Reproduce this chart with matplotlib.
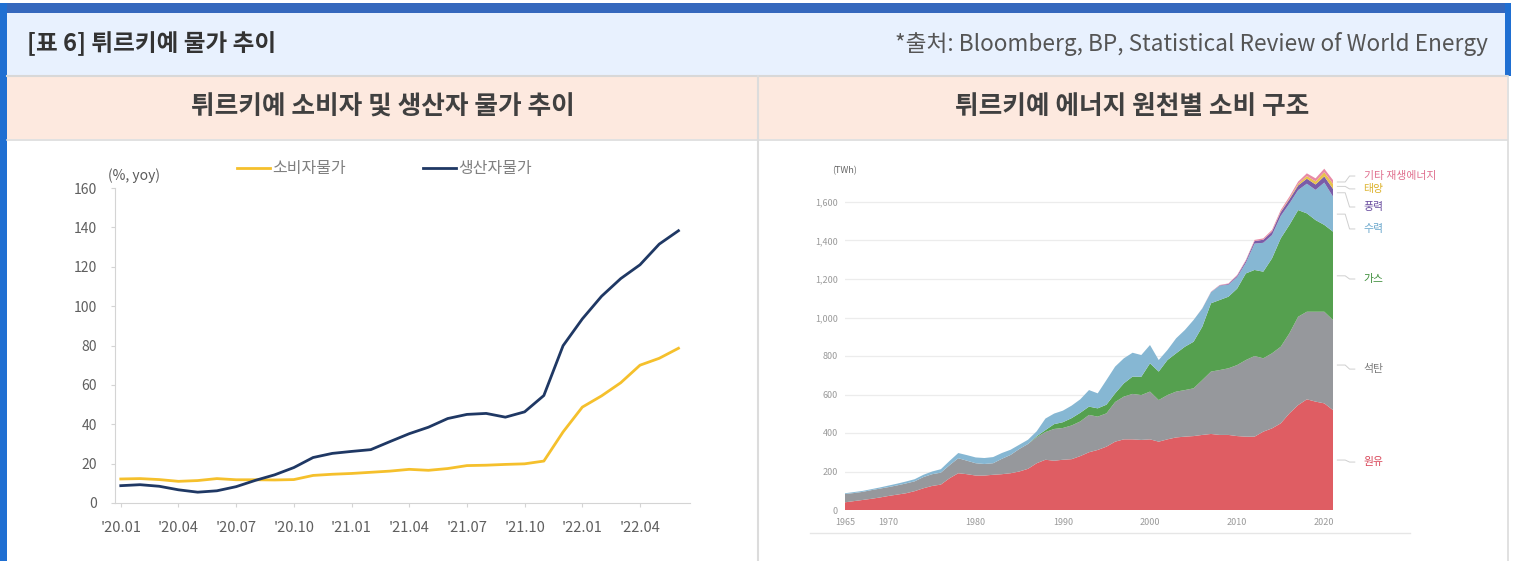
"""
Turkey price trend + energy consumption by source, two-panel report card.
"""
import numpy as np
import matplotlib
matplotlib.use("Agg")
import matplotlib.pyplot as plt
import matplotlib.ticker as mticker
from matplotlib.patches import Rectangle
from matplotlib.lines import Line2D

plt.rcParams["font.family"] = ["Noto Sans CJK KR", "DejaVu Sans"]

# --- Left panel: CPI / PPI (% yoy), monthly 2020.01 - 2022.06 ---
CPI = [12.2, 12.4, 11.9, 11.0, 11.4, 12.4, 11.8, 11.8, 11.7, 11.9, 14.0, 14.6,
       15.0, 15.6, 16.2, 17.1, 16.6, 17.5, 19.0, 19.2, 19.6, 19.9, 21.3, 36.1,
       48.7, 54.4, 61.1, 70.0, 73.5, 78.6]
PPI = [8.8, 9.3, 8.5, 6.7, 5.5, 6.2, 8.3, 11.5, 14.3, 18.0, 23.1, 25.2,
       26.2, 27.1, 31.2, 35.2, 38.5, 42.9, 45.0, 45.5, 43.6, 46.3, 54.6, 79.9,
       93.5, 105.0, 114.0, 121.0, 131.5, 138.3]
X_TICK_LABELS = ["'20.01", "'20.04", "'20.07", "'20.10", "'21.01",
                 "'21.04", "'21.07", "'21.10", "'22.01", "'22.04"]
SERIES_LABELS = ["소비자물가", "생산자물가"]

# --- Right panel: primary energy consumption by source (TWh) ---
YEARS = list(range(1965, 2022))
OIL = [40, 46, 52, 58, 65, 73, 80, 87, 98, 113,
       125, 132, 165, 191, 186, 179, 179, 183, 186, 191,
       200, 214, 243, 261, 256, 261, 264, 280, 300, 312,
       329, 355, 367, 367, 364, 367, 355, 367, 377, 381,
       384, 390, 395, 390, 390, 384, 381, 381, 407, 424,
       450, 502, 545, 575, 563, 554, 519]
COAL = [43, 42, 42, 45, 46, 46, 48, 51, 51, 58,
        61, 62, 68, 78, 70, 64, 60, 60, 80, 95,
        117, 129, 135, 144, 165, 165, 175, 180, 194, 173,
        173, 206, 222, 236, 233, 248, 216, 230, 238, 242,
        248, 285, 324, 337, 346, 369, 398, 419, 381, 390,
        398, 416, 459, 455, 467, 476, 468]
GAS = [0, 0, 0, 0, 0, 0, 0, 0, 0, 0,
       0, 0, 0, 0, 0, 0, 0, 0, 0, 0,
       0, 0, 5, 10, 25, 30, 38, 45, 43, 43,
       45, 45, 69, 90, 95, 147, 148, 182, 199, 225,
       242, 277, 355, 364, 372, 397, 450, 447, 450, 493,
       563, 563, 554, 511, 476, 451, 459]
HYDRO = [4, 5, 5, 5, 6, 8, 9, 10, 11, 12,
         14, 18, 22, 27, 29, 30, 31, 32, 30, 27,
         22, 22, 26, 60, 55, 60, 65, 70, 86, 78,
         128, 139, 130, 124, 113, 95, 60, 52, 78, 87,
         113, 95, 58, 74, 62, 60, 55, 137, 150, 121,
         116, 111, 104, 154, 157, 220, 182]
WIND = [0] * 43 + [2, 4, 7, 10, 13, 16, 18, 20, 22, 24, 26, 28, 32, 40]
SOLAR = [0] * 49 + [1, 2, 4, 8, 14, 16, 22, 26]
OTHER = [0] * 41 + [1, 2, 2, 3, 4, 5, 6, 7, 8, 9, 10, 12, 14, 16, 18, 20]
SOURCE_LABELS = ["원유", "석탄", "가스", "수력", "풍력", "태양", "기타 재생에너지"]

SOURCE_COLORS = ["#df5d63", "#96989c", "#55a04f", "#86b7d3", "#7a5ca8", "#e9c24c", "#e88aa6"]
LABEL_COLORS = ["#d9485a", "#7a7a7a", "#3f8f3c", "#6aa7cc", "#6b4fa0", "#ddb431", "#e0708f"]
LABEL_Y = [249, 732, 1200, 1460, 1574, 1668, 1735]   # label positions (TWh axis)

W, H = 1513, 561


def fx(x):
    return x / W


def fy(y):
    return 1 - y / H


def rect(fig, x0, y0, x1, y1, color):
    fig.patches.append(Rectangle((fx(x0), fy(y1)), (x1 - x0) / W, (y1 - y0) / H,
                                 transform=fig.transFigure, facecolor=color,
                                 edgecolor="none", zorder=0))


def hline(fig, x0, x1, y, color, lw):
    fig.add_artist(Line2D([fx(x0), fx(x1)], [fy(y), fy(y)], transform=fig.transFigure,
                          color=color, linewidth=lw, zorder=1))


def vline(fig, x, y0, y1, color, lw):
    fig.add_artist(Line2D([fx(x), fx(x)], [fy(y0), fy(y1)], transform=fig.transFigure,
                          color=color, linewidth=lw, zorder=1))


fig = plt.figure(figsize=(W / 100, H / 100), dpi=100, facecolor="white")

# --- frame / header bands ---
rect(fig, 0, 3, 1511, 13, "#3568bd")
rect(fig, 0, 3, 7, H, "#1f6fd2")
rect(fig, 1505, 3, 1511, 76, "#1f6fd2")
rect(fig, 7, 13, 1505, 75, "#e8f1fe")
rect(fig, 7, 77, 1507, 139, "#fde9df")
hline(fig, 7, 1507, 76, "#d8d8d8", 1.5)
hline(fig, 7, 1507, 139.5, "#dcdcdc", 1.2)
vline(fig, 757.5, 76, H, "#dcdcdc", 1.5)
vline(fig, 1507.5, 76, H, "#dcdcdc", 1.2)

fig.text(fx(27), fy(44), "[표 6] 튀르키예 물가 추이", fontsize=17, fontweight="bold",
         color="#333333", ha="left", va="center")
fig.text(fx(1488), fy(44), "*출처: Bloomberg, BP, Statistical Review of World Energy",
         fontsize=16.3, fontweight="light", color="#555555", ha="right", va="center")
fig.text(fx(383), fy(107), "튀르키예 소비자 및 생산자 물가 추이", fontsize=18.5,
         fontweight="bold", color="#404040", ha="center", va="center")
fig.text(fx(1132), fy(107), "튀르키예 에너지 원천별 소비 구조", fontsize=18.5,
         fontweight="bold", color="#404040", ha="center", va="center")

# --- left: CPI / PPI lines ---
ax1 = fig.add_axes([fx(115), fy(503), (690 - 115) / W, 315 / H])
ax1.set_facecolor("none")
x = np.arange(len(CPI))
l_cpi, = ax1.plot(x, CPI, color="#f5c02c", linewidth=2.0, solid_joinstyle="round")
l_ppi, = ax1.plot(x, PPI, color="#1f3864", linewidth=2.0, solid_joinstyle="round")
ax1.set_xlim(-0.3, 29.6)
ax1.set_ylim(0, 160)
ax1.set_yticks(range(0, 161, 20))
ax1.set_xticks(range(0, len(CPI), 3))
ax1.set_xticklabels(X_TICK_LABELS)
for s in ["top", "right"]:
    ax1.spines[s].set_visible(False)
for s in ["left", "bottom"]:
    ax1.spines[s].set_color("#d4d4d4")
    ax1.spines[s].set_linewidth(0.8)
ax1.tick_params(axis="y", length=3, width=0.8, color="#d4d4d4", labelsize=10,
                labelcolor="#5f5f5f", pad=10)
ax1.tick_params(axis="x", length=3, width=0.8, color="#d4d4d4", labelsize=10.5,
                labelcolor="#5f5f5f", pad=10)
fig.text(fx(108), fy(176), "(%, yoy)", fontsize=10, color="#5a5a5a", ha="left", va="center")

# legend drawn as two short line handles + labels
for xs, line, lab in zip([237, 423], [l_cpi, l_ppi], SERIES_LABELS):
    fig.add_artist(Line2D([fx(xs), fx(xs + 33)], [fy(168), fy(168)], transform=fig.transFigure,
                          color=line.get_color(), linewidth=2.0))
    fig.text(fx(xs + 35), fy(168), lab, fontsize=11.5, color="#808080", ha="left", va="center")

# --- right: stacked area by source ---
ax2 = fig.add_axes([fx(845), fy(510), 488 / W, 346.5 / H])
ax2.set_facecolor("none")
series = [OIL, COAL, GAS, HYDRO, WIND, SOLAR, OTHER]
ax2.stackplot(YEARS, *series, colors=SOURCE_COLORS, linewidth=0, zorder=2)
ax2.set_xlim(1965, 2021)
ax2.set_ylim(0, 1800)
ax2.set_yticks(range(0, 1601, 200))
ax2.yaxis.set_major_formatter(mticker.FuncFormatter(lambda v, p: f"{v:,.0f}"))
ax2.set_xticks([1965, 1970, 1980, 1990, 2000, 2010, 2020])
ax2.grid(True, axis="y", color="#ececec", linewidth=0.9, zorder=0)
for s in ax2.spines.values():
    s.set_visible(False)
ax2.tick_params(axis="both", length=0, labelsize=6.5, labelcolor="#9a9a9a")
ax2.tick_params(axis="y", pad=5)
ax2.tick_params(axis="x", pad=6)
fig.text(fx(832), fy(171), "(TWh)", fontsize=6.5, color="#666666", ha="left", va="center")
hline(fig, 810, 1410, 533, "#e6e6e6", 1.0)

# labels with short leader lines, anchored on the 2021 band midpoints
last = np.array([s[-1] for s in series], dtype=float)
tops = np.cumsum(last)
mids = tops - last / 2
for lab, col, mid, ly in zip(SOURCE_LABELS, LABEL_COLORS, mids, LABEL_Y):
    ax2.plot([2021.5, 2022.4, 2022.9, 2023.5], [mid, mid, ly, ly], color="#cfcfcf",
             linewidth=0.7, clip_on=False)
    ax2.text(2024.5, ly, lab, fontsize=7.8, color=col, ha="left", va="center")

fig.savefig("out.png", dpi=100, facecolor="white")
